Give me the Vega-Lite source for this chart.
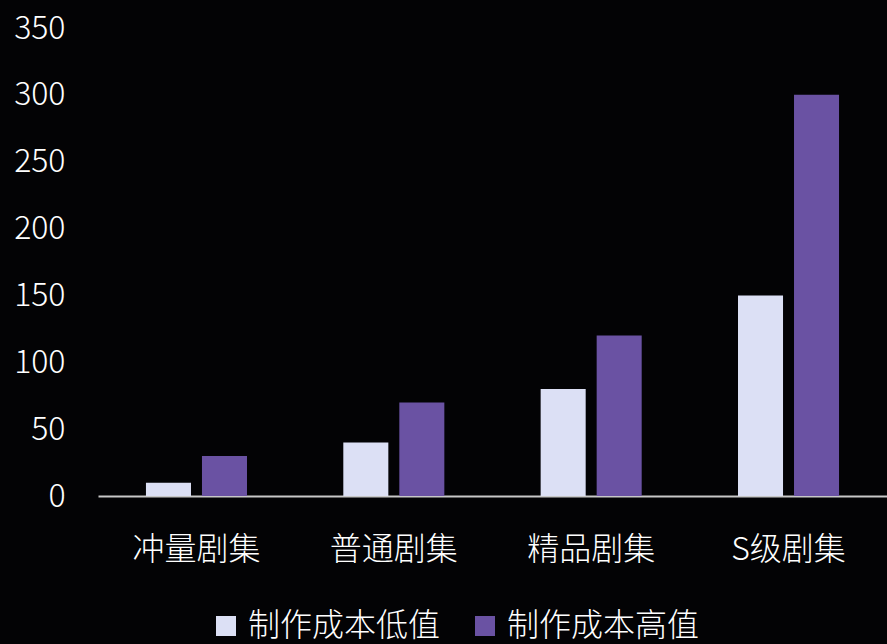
{
  "$schema": "https://vega.github.io/schema/vega-lite/v6.json",
  "width": 789,
  "height": 468,
  "autosize": {"type": "none"},
  "padding": {"left": 98, "top": 28, "right": 0, "bottom": 148},
  "background": "#030305",
  "data": {
    "values": [
      {"category": "冲量剧集", "series": "制作成本低值", "value": 10},
      {"category": "冲量剧集", "series": "制作成本高值", "value": 30},
      {"category": "普通剧集", "series": "制作成本低值", "value": 40},
      {"category": "普通剧集", "series": "制作成本高值", "value": 70},
      {"category": "精品剧集", "series": "制作成本低值", "value": 80},
      {"category": "精品剧集", "series": "制作成本高值", "value": 120},
      {"category": "S级剧集", "series": "制作成本低值", "value": 150},
      {"category": "S级剧集", "series": "制作成本高值", "value": 300}
    ]
  },
  "mark": {"type": "bar"},
  "encoding": {
    "x": {
      "field": "category",
      "type": "nominal",
      "sort": ["冲量剧集", "普通剧集", "精品剧集", "S级剧集"],
      "scale": {"paddingInner": 0.488, "paddingOuter": 0.243},
      "axis": {
        "title": null,
        "labelAngle": 0,
        "labelFontSize": 32,
        "labelFontWeight": 300,
        "labelColor": "#ffffff",
        "labelFont": "Noto Sans CJK SC",
        "labelPadding": 38,
        "ticks": false,
        "domainColor": "#c8c8c8",
        "domainWidth": 2,
        "grid": false
      }
    },
    "xOffset": {
      "field": "series",
      "type": "nominal",
      "sort": ["制作成本低值", "制作成本高值"],
      "scale": {"paddingInner": 0.196, "paddingOuter": 0}
    },
    "y": {
      "field": "value",
      "type": "quantitative",
      "scale": {"domain": [0, 350], "nice": false},
      "axis": {
        "title": null,
        "values": [0, 50, 100, 150, 200, 250, 300, 350],
        "labelFontSize": 32,
        "labelFontWeight": 300,
        "labelColor": "#ffffff",
        "labelFont": "Noto Sans CJK SC",
        "labelPadding": 33,
        "ticks": false,
        "domain": false,
        "grid": false
      }
    },
    "color": {
      "field": "series",
      "type": "nominal",
      "sort": ["制作成本低值", "制作成本高值"],
      "scale": {"domain": ["制作成本低值", "制作成本高值"], "range": ["#dce0f5", "#6a52a3"]},
      "legend": {
        "title": null,
        "orient": "none",
        "direction": "horizontal",
        "legendX": 112,
        "legendY": 582,
        "symbolType": "square",
        "symbolSize": 400,
        "symbolStrokeWidth": 0,
        "labelFontSize": 32,
        "labelFontWeight": 300,
        "labelColor": "#ffffff",
        "labelFont": "Noto Sans CJK SC",
        "labelOffset": 6,
        "columnPadding": 28,
        "labelLimit": 400
      }
    }
  },
  "config": {"view": {"stroke": null}}
}
